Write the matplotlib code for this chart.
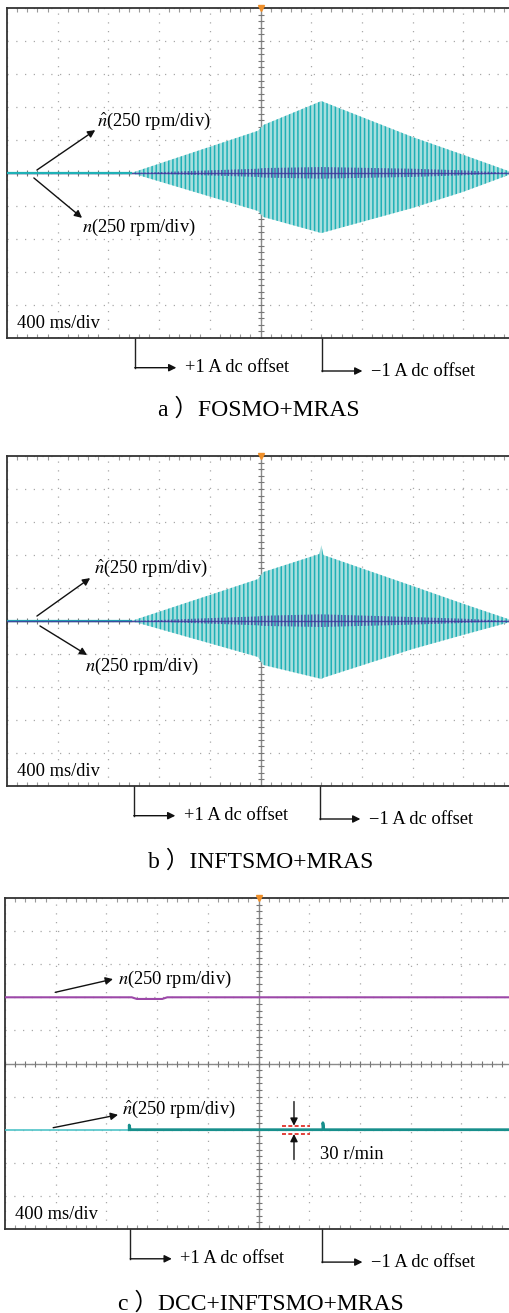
import numpy as np
import matplotlib.pyplot as plt

plt.rcParams['font.family'] = ['Liberation Serif', 'Noto Sans CJK SC']
plt.rcParams['mathtext.fontset'] = 'stix'
plt.rcParams['hatch.linewidth'] = 1.1

# x in divisions (400 ms/div), y in divisions (250 rpm/div)

# a) FOSMO+MRAS : envelope of the oscillating estimated speed and of the real speed
a_t = [0.0, 2.45, 4.95, 5.05, 6.2, 8.0, 9.0, 10.0]
a_nhat_top = [0.0, 0.0, 1.28, 1.45, 2.18, 1.09, 0.55, 0.0]
a_nhat_bot = [0.0, 0.0, -1.15, -1.33, -1.82, -1.06, -0.57, 0.0]
a_n_top = [0.0, 0.0, 0.13, 0.15, 0.18, 0.13, 0.08, 0.0]
a_n_bot = [0.0, 0.0, -0.12, -0.14, -0.17, -0.12, -0.07, 0.0]
a_offsets = [2.52, 6.21]

# b) INFTSMO+MRAS
b_t = [0.0, 2.45, 4.95, 5.05, 6.16, 6.2, 6.24, 8.0, 9.0, 10.0]
b_nhat_top = [0.0, 0.0, 1.27, 1.48, 2.03, 2.3, 2.0, 1.06, 0.52, 0.0]
b_nhat_bot = [0.0, 0.0, -1.09, -1.33, -1.74, -1.76, -1.72, -0.85, -0.42, 0.0]
b_n_top = [0.0, 0.0, 0.14, 0.16, 0.2, 0.2, 0.2, 0.12, 0.07, 0.0]
b_n_bot = [0.0, 0.0, -0.13, -0.15, -0.18, -0.18, -0.18, -0.11, -0.06, 0.0]
b_offsets = [2.5, 6.17]

# c) DCC+INFTSMO+MRAS
c_n_t = [0.0, 2.5, 2.6, 3.1, 3.2, 10.0]
c_n_v = [2.0, 2.0, 1.95, 1.95, 2.0, 2.0]
c_nhat_pre_t = [0.0, 2.45]
c_nhat_pre_v = [-2.0, -2.0]
c_nhat_post_t = [2.45, 2.45, 2.47, 6.27, 6.27, 6.29, 10.0]
c_nhat_post_v = [-2.0, -1.86, -2.0, -2.0, -1.79, -2.0, -2.0]
c_band = [-2.13, -1.88]
c_band_t = [5.46, 6.02]
c_offsets = [2.47, 6.25]

CYAN = '#1fb1b6'
CYAN_FILL = '#a8dede'
PURPLE = '#40309a'
MAGENTA = '#9c48a8'
TEAL = '#178f8c'
FS = 13.3

fig = plt.figure(figsize=(5.09, 13.13), dpi=100)
H = 1313.0
W = 509.0


def scope(left, top, height):
    ax = fig.add_axes([left / W, 1 - (top + height) / H, 507 / W, height / H])
    ax.set_xlim(0, 10)
    ax.set_ylim(-5, 5)
    ax.set_xticks(np.arange(0, 11))
    ax.set_yticks(np.arange(-5, 6))
    ax.set_xticks(np.arange(0, 10.01, 0.2), minor=True)
    ax.set_yticks(np.arange(-5, 5.01, 0.2), minor=True)
    ax.tick_params(which='both', direction='in', labelbottom=False, labelleft=False,
                   top=True, left=False, right=False, length=0)
    ax.tick_params(which='minor', length=3, color='#999999', width=0.8)
    ax.set_axisbelow(True)
    ax.grid(True, which='major', color='#a8a8a8', ls=(0, (1, 6)), lw=0.9)
    for s in ax.spines.values():
        s.set_color('#333333')
        s.set_linewidth(1.3)
    # centre cross with sub-division marks
    ax.axvline(5, color='#8a8a8a', lw=1, zorder=1)
    ax.axhline(0, color='#8a8a8a', lw=1, zorder=1)
    ax.plot(np.full(51, 5.0), np.linspace(-5, 5, 51), ls='none', marker='_', ms=5,
            color='#777777', mew=0.8, zorder=1)
    ax.plot(np.linspace(0, 10, 51), np.zeros(51), ls='none', marker='|', ms=5,
            color='#777777', mew=0.8, zorder=1)
    ax.plot([5], [5], marker='v', ms=4, color='#f0902a', clip_on=False, zorder=5)
    ax.text(0.2, -4.55, '400 ms/div', fontsize=FS, va='center', ha='left')
    return ax


def arrow(ax, start, end):
    ax.annotate('', xy=end, xytext=start, annotation_clip=False,
                arrowprops=dict(arrowstyle='-|>', color='#111111', lw=1.0,
                                mutation_scale=11, shrinkA=0, shrinkB=0))


def offsets(ax, xs):
    for x, dy, L, txt in [(xs[0], -5.9, 0.82, '+1 A dc offset'),
                          (xs[1], -6.0, 0.8, '\u22121 A dc offset')]:
        ax.plot([x, x], [-5, dy], color='#222222', lw=1.0, clip_on=False)
        arrow(ax, (x, dy), (x + L, dy))
        ax.text(x + L + 0.17, dy, txt, fontsize=FS, va='center', ha='left')


def oscillation(ax, t, top, bot, ntop, nbot, n_on_top):
    ax.fill_between(t, bot, top, facecolor=CYAN_FILL, edgecolor=CYAN, hatch='||||',
                    lw=0, zorder=3)
    ax.plot(t[:2], top[:2], color=CYAN, lw=1.6, zorder=4 if not n_on_top else 3)
    ax.fill_between(t, nbot, ntop, facecolor='none', edgecolor=PURPLE, hatch='|||||',
                    lw=0, alpha=0.75, zorder=4)
    ax.plot(t, np.zeros(len(t)), color=PURPLE, lw=1.0, alpha=0.8,
            zorder=5 if n_on_top else 3)


# ---- a) ----
ax = scope(7, 8, 330)
oscillation(ax, a_t, a_nhat_top, a_nhat_bot, a_n_top, a_n_bot, False)
arrow(ax, (0.59, 0.09), (1.74, 1.30))
ax.text(1.78, 1.55, r'$\hat{n}$(250 rpm/div)', fontsize=FS, va='center', ha='left')
arrow(ax, (0.53, -0.15), (1.48, -1.36))
ax.text(1.48, -1.64, r'$n$(250 rpm/div)', fontsize=FS, va='center', ha='left')
offsets(ax, a_offsets)
fig.text(259 / W, 1 - 410 / H, 'a \uff09FOSMO+MRAS', fontsize=17, ha='center', va='center')

# ---- b) ----
ax = scope(7, 456, 330)
oscillation(ax, b_t, b_nhat_top, b_nhat_bot, b_n_top, b_n_bot, True)
arrow(ax, (0.59, 0.15), (1.64, 1.30))
ax.text(1.72, 1.58, r'$\hat{n}$(250 rpm/div)', fontsize=FS, va='center', ha='left')
arrow(ax, (0.65, -0.15), (1.58, -1.03))
ax.text(1.54, -1.39, r'$n$(250 rpm/div)', fontsize=FS, va='center', ha='left')
offsets(ax, b_offsets)
fig.text(261 / W, 1 - 861 / H, 'b \uff09INFTSMO+MRAS', fontsize=17, ha='center', va='center')

# ---- c) ----
ax = scope(5, 898, 331)
ax.plot(c_n_t, c_n_v, color=MAGENTA, lw=1.5, zorder=4)
ax.plot(c_nhat_pre_t, c_nhat_pre_v, color='#4fc4c8', lw=1.2, zorder=4)
ax.plot(c_nhat_post_t, c_nhat_post_v, color=TEAL, lw=2.0, zorder=4)
for yb in c_band:
    ax.plot(c_band_t, [yb, yb], color='#e0302a', lw=1.3, ls=(0, (2.2, 1.3)), zorder=5)
arrow(ax, (5.7, -1.15), (5.7, c_band[1]))
arrow(ax, (5.7, -2.9), (5.7, c_band[0]))
ax.text(6.21, -2.76, '30 r/min', fontsize=FS, va='center', ha='left')
arrow(ax, (0.99, 2.15), (2.13, 2.55))
ax.text(2.23, 2.55, r'$n$(250 rpm/div)', fontsize=FS, va='center', ha='left')
arrow(ax, (0.95, -1.94), (2.23, -1.55))
ax.text(2.31, -1.39, r'$\hat{n}$(250 rpm/div)', fontsize=FS, va='center', ha='left')
offsets(ax, c_offsets)
fig.text(261 / W, 1 - 1303 / H, 'c \uff09DCC+INFTSMO+MRAS', fontsize=17, ha='center', va='center')

fig.savefig('out.png', dpi=100)
